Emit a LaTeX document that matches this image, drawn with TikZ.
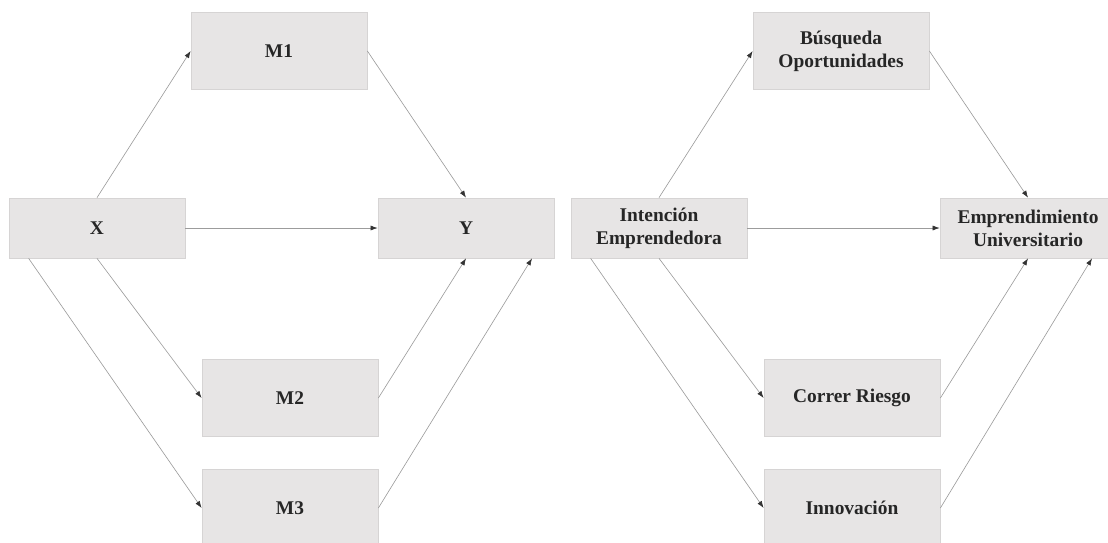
\documentclass[tikz,border=0pt]{standalone}
\usepackage{fontspec}
\setmainfont{Liberation Serif}
\usetikzlibrary{arrows.meta}
\definecolor{cajafondo}{HTML}{E7E5E5}
\definecolor{cajaborde}{HTML}{D6D4D4}
\definecolor{flecha}{HTML}{9C9C9C}
\begin{document}
\begin{tikzpicture}[x=0.025cm,y=-0.025cm,
        caja/.style={draw=cajaborde, fill=cajafondo, line width=0.5pt,
            minimum width=4.4cm, align=center, text=black!85,
            font=\fontsize{13.8pt}{16.3pt}\selectfont\bfseries},
        alta/.style={caja, minimum height=1.93cm},
        baja/.style={caja, minimum height=1.5cm},
        flechita/.style={draw=flecha, line width=0.45pt,
            -{Latex[length=5pt,width=3.6pt,color=black!80]}}]
        \useasboundingbox (0,0) rectangle (1108,542);
        % modelo general
        \node[alta] (m1) at (279,51) {M1};
        \node[baja] (x) at (97,228) {X};
        \node[baja] (y) at (466,228) {Y};
        \node[alta] (m2) at (290,398) {M2};
        \node[alta] (m3) at (290,508) {M3};
        \draw[flechita] (x.north) -- (m1.west);
        \draw[flechita] (m1.east) -- (y.north);
        \draw[flechita] (x.east) -- (y.west);
        \draw[flechita] (x.south) -- (m2.west);
        \draw[flechita] ([xshift=0.5cm]x.south west) -- (m3.west);
        \draw[flechita] (m2.east) -- (y.south);
        \draw[flechita] (m3.east) -- ([xshift=1.65cm]y.south);
        % modelo aplicado
        \node[alta] (bo) at (841,51) {Búsqueda\\Oportunidades};
        \node[baja] (ie) at (659,228) {Intención\\Emprendedora};
        \node[baja] (eu) at (1028,228) {Emprendimiento\\Universitario};
        \node[alta] (cr) at (852,398) {Correr Riesgo};
        \node[alta] (inn) at (852,508) {Innovación};
        \draw[flechita] (ie.north) -- (bo.west);
        \draw[flechita] (bo.east) -- (eu.north);
        \draw[flechita] (ie.east) -- (eu.west);
        \draw[flechita] (ie.south) -- (cr.west);
        \draw[flechita] ([xshift=0.5cm]ie.south west) -- (inn.west);
        \draw[flechita] (cr.east) -- (eu.south);
        \draw[flechita] (inn.east) -- ([xshift=1.6cm]eu.south);
    \end{tikzpicture}
\end{document}
